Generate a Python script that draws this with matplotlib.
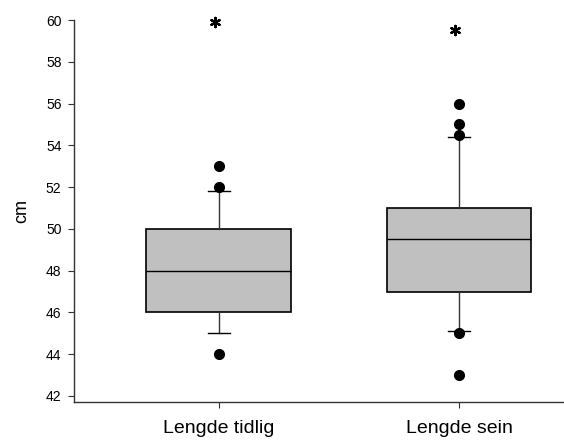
import matplotlib
matplotlib.use('Agg')
import matplotlib.pyplot as plt

plt.rcParams['font.family'] = ['Liberation Sans', 'DejaVu Sans']

# Box statistics
labels = ['Lengde tidlig', 'Lengde sein']
q1 = [46.0, 47.0]
med = [48.0, 49.5]
q3 = [50.0, 51.0]
whislo = [45.0, 45.1]
whishi = [51.8, 54.4]
outliers = [[44.0, 52.0, 53.0], [43.0, 45.0, 54.5, 55.0, 56.0]]
extremes = [59.9, 59.5]

stats = []
for i in range(len(labels)):
    stats.append({'label': labels[i], 'q1': q1[i], 'med': med[i], 'q3': q3[i],
                  'whislo': whislo[i], 'whishi': whishi[i], 'fliers': outliers[i]})

fig = plt.figure(figsize=(5.64, 4.45), dpi=100)
ax = fig.add_axes([74/564, 43/445, 490/564, 382/445])

ax.bxp(stats, positions=[1, 2], widths=0.604, patch_artist=True,
       boxprops=dict(facecolor='#c0c0c0', edgecolor='black', linewidth=1.2),
       medianprops=dict(color='black', linewidth=1.0),
       whiskerprops=dict(color='#333333', linewidth=1.0),
       capprops=dict(color='black', linewidth=1.0),
       capwidths=0.09,
       flierprops=dict(marker='o', markerfacecolor='black', markeredgecolor='black',
                       markersize=7, linestyle='none'))

# extreme values drawn as asterisks
ax.scatter([0.985, 1.985], extremes, marker=(6, 2, 0), s=45, color='black',
           linewidths=1.6, zorder=5, clip_on=False)

ax.set_xlim(0.396, 2.4375)
ax.set_ylim(41.71, 60)
ax.set_yticks(range(42, 61, 2))
ax.set_ylabel('cm', fontsize=13, labelpad=11)

ax.spines['top'].set_visible(False)
ax.spines['right'].set_visible(False)
for s in ['left', 'bottom']:
    ax.spines[s].set_color('#333333')
    ax.spines[s].set_linewidth(1.0)
ax.tick_params(axis='y', labelsize=10, length=4, direction='out', pad=5, color='#333333')
ax.tick_params(axis='x', labelsize=14, length=4, direction='out', pad=9, color='#333333')

fig.savefig('out.png', dpi=100)
